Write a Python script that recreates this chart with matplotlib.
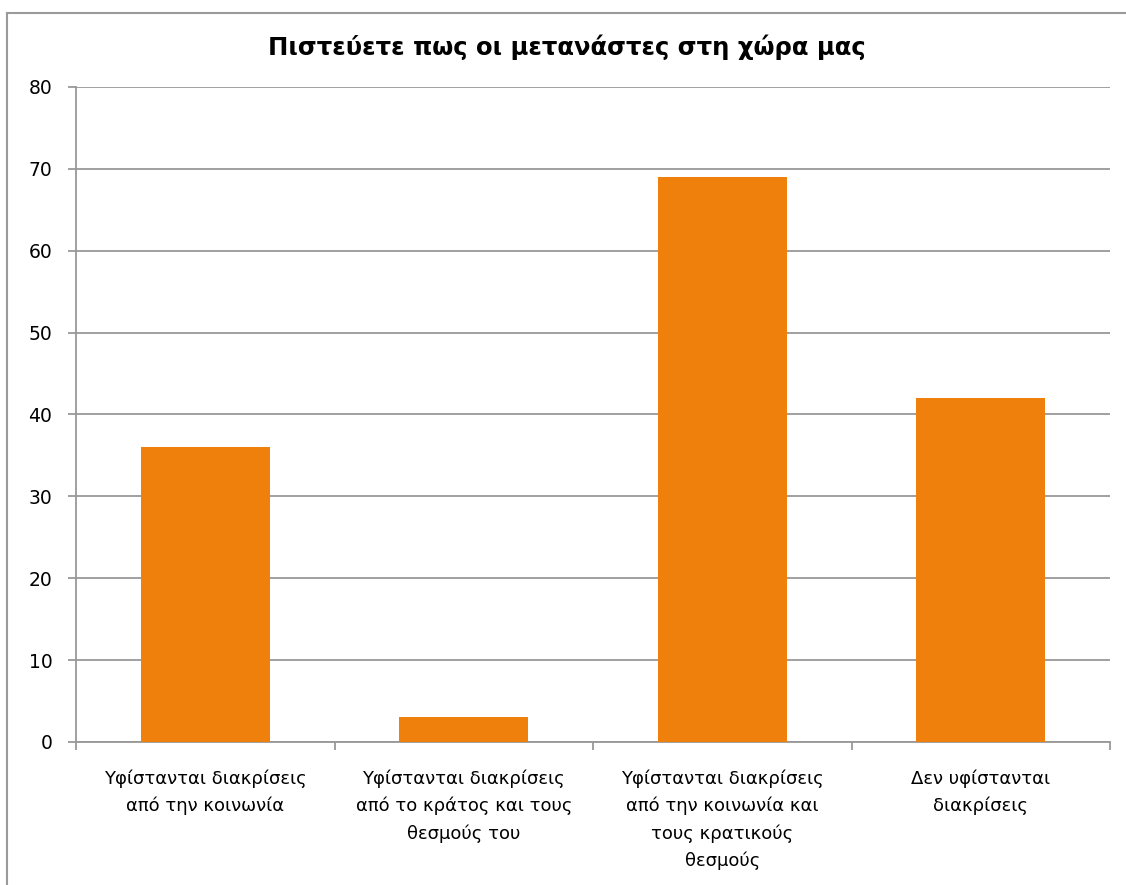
import numpy as np
import matplotlib.pyplot as plt
from matplotlib.lines import Line2D

categories = [
    "Υφίστανται διακρίσεις\nαπό την κοινωνία",
    "Υφίστανται διακρίσεις\nαπό το κράτος και τους\nθεσμούς του",
    "Υφίστανται διακρίσεις\nαπό την κοινωνία και\nτους κρατικούς\nθεσμούς",
    "Δεν υφίστανται\nδιακρίσεις",
]
values = [36, 3, 69, 42]
title = "Πιστεύετε πως οι μετανάστες στη χώρα μας"

bar_color = "#F0800C"
grid_color = "#989898"

plt.rcParams['font.family'] = ['DejaVu Sans']

fig = plt.figure(figsize=(11.26, 8.85), dpi=100)
ax = fig.add_axes([0.0675, 0.1616, 0.9183, 0.7401])

x = np.arange(len(categories))
ax.bar(x, values, width=0.5, color=bar_color, zorder=3)

ax.set_xlim(-0.5, len(categories) - 0.5)
ax.set_ylim(0, 80)
ax.set_yticks(np.arange(0, 81, 10))
ax.yaxis.grid(True, color=grid_color, linewidth=1.3, zorder=0)

# category labels sit between boundary ticks
ax.set_xticks(np.arange(-0.5, len(categories), 1.0))
ax.set_xticklabels([])
ax.set_xticks(x, minor=True)
ax.set_xticklabels(categories, minor=True, fontsize=13, linespacing=1.6, va="top")
ax.tick_params(axis="x", which="minor", length=0, pad=20)
ax.tick_params(axis="x", which="major", length=6, width=1.3, color=grid_color)
ax.tick_params(axis="y", length=6, width=1.3, color=grid_color, labelsize=13.5, pad=11)

for side in ["top", "right"]:
    ax.spines[side].set_visible(False)
for side in ["left", "bottom"]:
    ax.spines[side].set_color(grid_color)
    ax.spines[side].set_linewidth(1.3)

fig.text(0.503, 0.947, title, ha="center", va="center", fontsize=17.5, fontweight="bold")

# chart frame
fig.add_artist(Line2D([7 / 1126, 7 / 1126], [0, 1 - 13 / 885], color="#9a9a9a", linewidth=1.5))
fig.add_artist(Line2D([7 / 1126, 1], [1 - 13 / 885, 1 - 13 / 885], color="#9a9a9a", linewidth=1.5))

fig.savefig("out.png", dpi=100)
plt.close()
